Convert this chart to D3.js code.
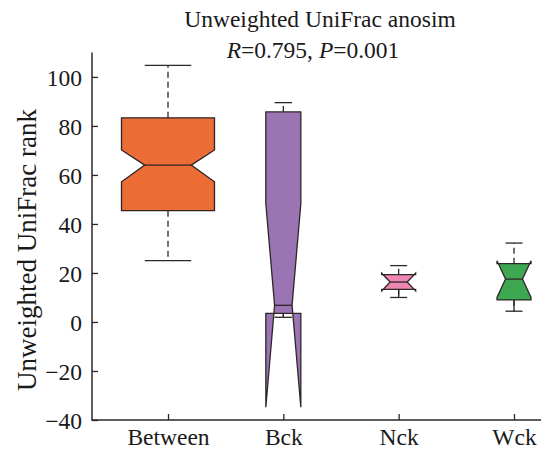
<!DOCTYPE html>
<html>
<head>
<meta charset="utf-8">
<script src="https://cdn.jsdelivr.net/npm/d3@7"></script>
<style>
  html, body { margin: 0; padding: 0; background: #fff; }
  svg { display: block; }
  svg text { font-family: "Liberation Serif", Tinos, "Times New Roman", Times, serif !important; fill: #1a1a1a; }
</style>
</head>
<body>
<svg id="chart" width="541" height="449"></svg>
<script>
// ---- data ----
const categories = ["Between", "Bck", "Nck", "Wck"];
const upperWhisker = [104.7, 89.5, 23.0, 32.2];
const q3Values     = [83.3, 85.7, 19.3, 23.8];
const notchTop     = [70.2, 48.3, 19.9, 25.0];
const medians      = [64.0, 6.8, 16.3, 17.5];
const notchBottom  = [57.2, -34.8, 12.7, 10.0];
const q1Values     = [45.4, 3.5, 13.3, 9.0];
const lowerWhisker = [25.0, 1.9, 10.0, 4.4];
const yTicks = [-40, -20, 0, 20, 40, 60, 80, 100];
const titleLine1 = "Unweighted UniFrac anosim";
const yLabel = "Unweighted UniFrac rank";

// ---- styles ----
const fills = { Between: "#EC6C36", Bck: "#9B74B3", Nck: "#EE86B2", Wck: "#3DA851" };
const halfWidth = { Between: 46.5, Bck: 17.5, Nck: 17, Wck: 17 };
const stroke = "#2e2626";
const FS = "23.5px";

const svg = d3.select("#chart");
const x = d3.scalePoint().domain(categories).range([168, 514]);
const y = d3.scaleLinear().domain([-40, 110]).range([420, 52.4]);
const axisLeft = 92, axisRight = 541;

// title
svg.append("text").attr("x", 320).attr("y", 27).attr("text-anchor", "middle")
  .style("font-size", FS).text(titleLine1);
const t2 = svg.append("text").attr("x", 313).attr("y", 58).attr("text-anchor", "middle")
  .style("font-size", FS);
t2.append("tspan").style("font-style", "italic").text("R");
t2.append("tspan").text("=0.795, ");
t2.append("tspan").style("font-style", "italic").text("P");
t2.append("tspan").text("=0.001");

// y label
svg.append("text").attr("transform", `translate(36,${250}) rotate(-90)`)
  .attr("text-anchor", "middle").style("font-size", "27px").text(yLabel);

// boxes
const data = categories.map((c, i) => ({
  c, uw: upperWhisker[i], q3: q3Values[i], nt: notchTop[i], med: medians[i],
  nb: notchBottom[i], q1: q1Values[i], lw: lowerWhisker[i]
}));

const g = svg.append("g");
data.forEach(d => {
  const cx = x(d.c), hw = halfWidth[d.c];
  const L = cx - hw, R = cx + hw, nL = cx - hw / 2, nR = cx + hw / 2;
  const pts = [[L, d.q3], [L, d.nt], [nL, d.med], [L, d.nb], [L, d.q1],
               [R, d.q1], [R, d.nb], [nR, d.med], [R, d.nt], [R, d.q3]]
    .map(p => [p[0], y(p[1])]);
  g.append("line").attr("x1", cx).attr("x2", cx).attr("y1", y(d.q3)).attr("y2", y(d.uw))
    .attr("stroke", stroke).attr("stroke-width", 1.3).attr("stroke-dasharray", "6,4");
  g.append("line").attr("x1", cx).attr("x2", cx).attr("y1", y(d.q1)).attr("y2", y(d.lw))
    .attr("stroke", stroke).attr("stroke-width", 1.3).attr("stroke-dasharray", "6,4");
  g.append("path").attr("d", "M" + pts.map(p => p.join(",")).join("L") + "Z")
    .attr("fill", fills[d.c]).attr("fill-rule", "evenodd")
    .attr("stroke", stroke).attr("stroke-width", 1.3).attr("stroke-linejoin", "miter");
  g.append("line").attr("x1", nL).attr("x2", nR).attr("y1", y(d.med)).attr("y2", y(d.med))
    .attr("stroke", stroke).attr("stroke-width", 1.3);
  [d.uw, d.lw].forEach(v => {
    g.append("line").attr("x1", cx - hw / 2).attr("x2", cx + hw / 2).attr("y1", y(v)).attr("y2", y(v))
      .attr("stroke", stroke).attr("stroke-width", 1.3);
  });
  if (d.lw < d.q1 && d.q1 - d.lw < 5) {
    g.append("line").attr("x1", cx).attr("x2", cx).attr("y1", y(d.q1)).attr("y2", y(d.lw))
      .attr("stroke", stroke).attr("stroke-width", 1.3);
  }
});

// axes
const ya = svg.append("g").attr("transform", `translate(${axisLeft},0)`)
  .call(d3.axisRight(y).tickValues(yTicks).tickSize(6).tickFormat(d => d < 0 ? "\u2212" + Math.abs(d) : d));
ya.attr("font-family", null).attr("font-size", null);
ya.select(".domain").remove();
ya.selectAll(".tick line").attr("stroke", stroke).attr("stroke-width", 1.3);
ya.selectAll(".tick text").attr("x", -10).attr("text-anchor", "end").attr("dy", "0.35em")
  .style("font-size", FS);

const xa = svg.append("g").attr("transform", `translate(0,${y(-40)})`)
  .call(d3.axisTop(x).tickSize(6));
xa.attr("font-family", null).attr("font-size", null);
xa.select(".domain").remove();
xa.selectAll(".tick line").attr("stroke", stroke).attr("stroke-width", 1.3);
xa.selectAll(".tick text").attr("y", 25).attr("dy", 0).style("font-size", FS);

svg.append("line").attr("x1", axisLeft).attr("x2", axisLeft).attr("y1", y(110)).attr("y2", y(-40) + 0.75)
  .attr("stroke", stroke).attr("stroke-width", 1.5);
svg.append("line").attr("x1", axisLeft).attr("x2", axisRight).attr("y1", y(-40)).attr("y2", y(-40))
  .attr("stroke", stroke).attr("stroke-width", 1.5);
</script>
</body>
</html>
